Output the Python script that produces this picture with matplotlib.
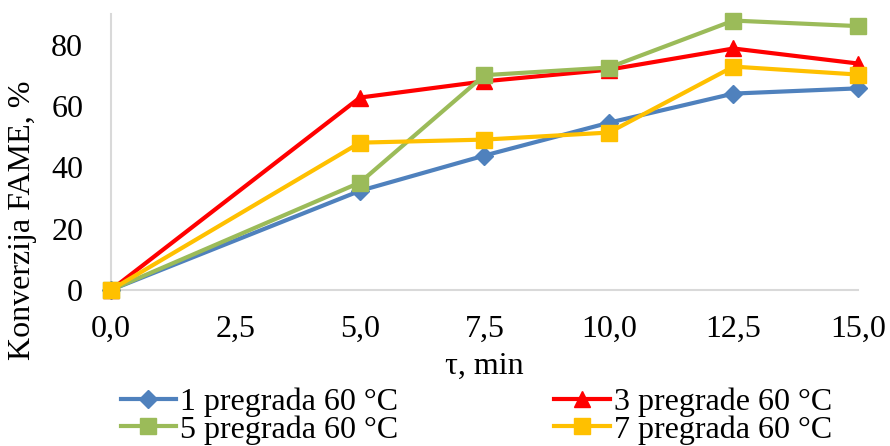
import matplotlib
matplotlib.use("Agg")
import matplotlib.pyplot as plt

plt.rcParams['font.family'] = ['Liberation Serif', 'DejaVu Serif']

x = [0.0, 5.0, 7.5, 10.0, 12.5, 15.0]
labels = ["1 pregrada 60 °C", "3 pregrade 60 °C", "5 pregrada 60 °C", "7 pregrada 60 °C"]
s1 = [0, 32.3, 43.8, 54.5, 64.0, 65.7]
s3 = [0, 62.7, 68.0, 71.8, 78.7, 73.8]
s5 = [0, 35.0, 70.0, 72.5, 87.8, 86.0]
s7 = [0, 48.0, 49.0, 51.3, 72.8, 70.2]
xticks = [0, 2.5, 5, 7.5, 10, 12.5, 15]
xticklabels = ["0,0", "2,5", "5,0", "7,5", "10,0", "12,5", "15,0"]
yticks = [0, 20, 40, 60, 80]

FS = 23
fig = plt.figure(figsize=(8.9, 4.46), dpi=100)
ax = fig.add_axes([0.1247, 0.35, 0.964 - 0.1247, 0.969 - 0.35])

colors = ["#4F81BD", "#FF0000", "#9BBB59", "#FFC000"]
markers = ["D", "^", "s", "s"]
msizes = [9, 11, 11.5, 11.5]
handles = []
for ys, c, m, ms, lab in zip([s1, s3, s5, s7], colors, markers, msizes, labels):
    h, = ax.plot(x, ys, color=c, marker=m, markersize=ms, linewidth=3, label=lab,
                 markeredgecolor=c, clip_on=False, zorder=3)
    handles.append(h)

ax.set_xlim(0, 15)
ax.set_ylim(0, 90)
ax.set_xticks(xticks)
ax.set_xticklabels(xticklabels)
ax.set_yticks(yticks)
ax.tick_params(axis="both", labelsize=FS, length=0)
ax.tick_params(axis="x", pad=18)
ax.tick_params(axis="y", pad=20)
for side in ["top", "right"]:
    ax.spines[side].set_visible(False)
for side in ["left", "bottom"]:
    ax.spines[side].set_color("#D9D9D9")
    ax.spines[side].set_linewidth(1.5)

ax.set_xlabel("τ, min", fontsize=FS, labelpad=6)
ax.set_ylabel("Konverzija FAME, %", fontsize=FS)
ax.yaxis.set_label_coords(-0.099, 0.254)

order = [handles[0], handles[2], handles[1], handles[3]]
fig.legend(handles=order, loc="lower center", ncol=2, fontsize=FS, frameon=False,
           bbox_to_anchor=(0.535, 0.003), columnspacing=4.9, handlelength=1.75,
           handletextpad=0.1, labelspacing=-0.05, borderpad=0.0, borderaxespad=0.0)

fig.savefig("out.png", dpi=100)
